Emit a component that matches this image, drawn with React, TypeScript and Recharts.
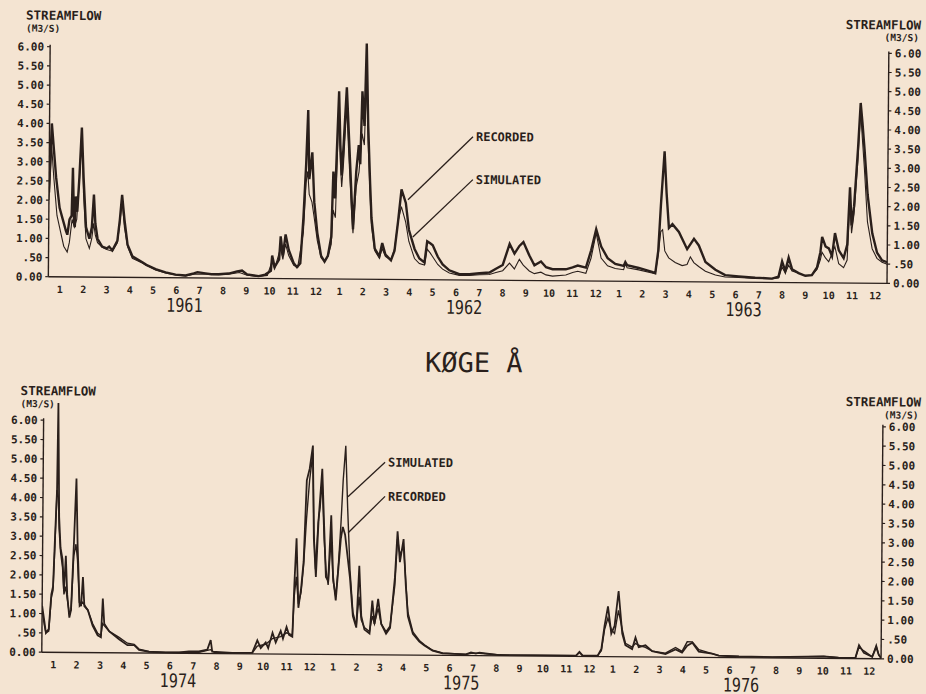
import React from "react";
import { LineChart, Line, XAxis, YAxis, ReferenceLine, ReferenceDot } from "recharts";

const BG = "#f4e4d2";
const INK = "#2a1f1b";
const MONO = "'DejaVu Sans Mono', monospace";

const MONTHS = ["1", "2", "3", "4", "5", "6", "7", "8", "9", "10", "11", "12"];
const MONTH_EDGES = Array.from({ length: 37 }, (_, i) => i);
const MONTH_CENTERS = Array.from({ length: 36 }, (_, i) => i + 0.5);
const Y_TICKS = [0, 0.5, 1, 1.5, 2, 2.5, 3, 3.5, 4, 4.5, 5, 5.5, 6];

const TOP_YEARS = ["1961", "1962", "1963"];
const TOP_YEAR_TICKS = [5.85, 17.85, 29.85];
const BOTTOM_YEARS = ["1974", "1975", "1976"];
const BOTTOM_YEAR_TICKS = [5.85, 18.0, 30.0];

// [month since start of first year, streamflow m3/s]
const TOP_RECORDED: [number, number][] = [
  [0, 2.2], [0.1, 4.0], [0.2, 3.3], [0.3, 2.6], [0.46, 1.8], [0.6, 1.5], [0.74, 1.2], [0.8, 1.1],
  [0.89, 1.5], [0.98, 1.6], [1.02, 2.85], [1.08, 1.5], [1.12, 1.3], [1.15, 2.1], [1.22, 1.7],
  [1.3, 2.6], [1.39, 3.9], [1.48, 2.6], [1.6, 1.3], [1.75, 1.0], [1.85, 1.3], [1.93, 2.15],
  [2.0, 1.4], [2.1, 1.0], [2.3, 0.8], [2.5, 0.75], [2.6, 0.8], [2.74, 0.7], [2.95, 0.95],
  [3.05, 1.5], [3.14, 2.15], [3.25, 1.5], [3.39, 0.85], [3.6, 0.55], [4.03, 0.4], [4.2, 0.33],
  [4.6, 0.22], [5.03, 0.14], [5.46, 0.08], [5.89, 0.06], [6.24, 0.12], [6.4, 0.15], [6.74, 0.12],
  [7.0, 0.1], [7.31, 0.1], [7.74, 0.12], [8.1, 0.18], [8.31, 0.2], [8.53, 0.1], [9.03, 0.06],
  [9.31, 0.1], [9.55, 0.2], [9.6, 0.6], [9.71, 0.3], [9.9, 0.5], [9.96, 1.1], [10.06, 0.6],
  [10.17, 1.15], [10.31, 0.75], [10.53, 0.4], [10.67, 0.3], [10.81, 0.4], [10.93, 1.6],
  [11.03, 3.0], [11.1, 4.4], [11.17, 2.6], [11.29, 3.3], [11.39, 2.0], [11.53, 1.2], [11.7, 0.6],
  [11.85, 0.45], [11.99, 0.6], [12.13, 1.1], [12.2, 2.8], [12.28, 2.1], [12.42, 4.9], [12.49, 3.5],
  [12.56, 2.7], [12.63, 3.5], [12.75, 5.0], [12.85, 3.8], [13.0, 2.0], [13.06, 1.3], [13.18, 2.8],
  [13.28, 3.5], [13.35, 3.0], [13.42, 4.9], [13.52, 4.0], [13.59, 6.15], [13.68, 4.0], [13.78, 2.5],
  [13.85, 1.6], [14.0, 0.8], [14.2, 0.6], [14.32, 0.95], [14.46, 0.65], [14.7, 0.5], [14.85, 0.75],
  [14.99, 1.5], [15.13, 2.35], [15.32, 2.0], [15.46, 1.3], [15.71, 0.8], [15.92, 0.55], [16.14, 0.45],
  [16.25, 1.0], [16.38, 0.95], [16.49, 0.9], [16.71, 0.6], [16.92, 0.4], [17.21, 0.25], [17.64, 0.15],
  [18.07, 0.15], [18.5, 0.18], [18.93, 0.2], [19.21, 0.3], [19.5, 0.4], [19.79, 0.95], [20.0, 0.7],
  [20.21, 0.9], [20.38, 1.0], [20.64, 0.65], [20.86, 0.4], [21.14, 0.5], [21.36, 0.35], [21.64, 0.3],
  [22.21, 0.3], [22.5, 0.35], [22.72, 0.4], [23.07, 0.35], [23.29, 0.8], [23.5, 1.35], [23.72, 0.9],
  [24.0, 0.6], [24.33, 0.45], [24.69, 0.4], [24.76, 0.5], [24.84, 0.42], [25.34, 0.35], [25.91, 0.25],
  [26.05, 0.22], [26.17, 0.8], [26.27, 2.0], [26.41, 3.4], [26.51, 2.3], [26.62, 1.4], [26.77, 1.5],
  [27.05, 1.3], [27.41, 0.85], [27.7, 1.12], [27.91, 0.95], [28.2, 0.52], [28.63, 0.32], [29.05, 0.18],
  [29.63, 0.15], [30.34, 0.12], [31.06, 0.1], [31.34, 0.15], [31.49, 0.55], [31.63, 0.3], [31.77, 0.65],
  [31.92, 0.35], [32.2, 0.25], [32.49, 0.18], [32.77, 0.2], [32.99, 0.4], [33.13, 0.8], [33.2, 1.2],
  [33.35, 0.95], [33.49, 0.9], [33.63, 0.7], [33.75, 1.3], [33.92, 0.85], [34.13, 0.65], [34.28, 1.0],
  [34.38, 2.5], [34.46, 1.5], [34.56, 2.0], [34.71, 3.5], [34.81, 4.7], [34.89, 4.2], [34.99, 3.5],
  [35.14, 2.3], [35.35, 1.3], [35.56, 0.8], [35.78, 0.6], [36.0, 0.55],
];

const TOP_SIMULATED: [number, number][] = [
  [0, 2.0], [0.1, 3.4], [0.2, 2.6], [0.35, 1.6], [0.5, 1.2], [0.65, 0.8], [0.8, 0.65], [0.89, 0.9],
  [1.0, 1.5], [1.1, 1.3], [1.2, 1.5], [1.3, 2.5], [1.39, 3.8], [1.48, 2.2], [1.6, 1.0], [1.75, 0.75],
  [1.85, 1.0], [1.93, 1.4], [2.0, 1.1], [2.1, 0.9], [2.3, 0.78], [2.5, 0.72], [2.74, 0.68], [2.95, 0.9],
  [3.05, 1.4], [3.14, 2.0], [3.25, 1.3], [3.39, 0.8], [3.6, 0.5], [4.03, 0.38], [4.6, 0.2], [5.03, 0.12],
  [5.46, 0.07], [5.89, 0.05], [6.3, 0.1], [6.74, 0.1], [7.31, 0.09], [7.74, 0.1], [8.2, 0.15],
  [8.53, 0.08], [9.03, 0.05], [9.4, 0.08], [9.6, 0.45], [9.71, 0.25], [9.96, 0.8], [10.06, 0.5],
  [10.17, 0.9], [10.31, 0.6], [10.53, 0.35], [10.7, 0.3], [10.93, 1.2], [11.03, 2.5], [11.1, 2.8],
  [11.17, 2.2], [11.29, 2.0], [11.39, 1.6], [11.53, 1.0], [11.7, 0.55], [11.85, 0.45], [12.0, 0.6],
  [12.13, 0.9], [12.2, 1.8], [12.3, 1.6], [12.42, 4.6], [12.5, 3.0], [12.56, 2.4], [12.63, 3.0],
  [12.75, 4.5], [12.85, 3.3], [13.0, 1.7], [13.06, 1.2], [13.18, 2.4], [13.3, 2.8], [13.42, 3.8],
  [13.52, 3.5], [13.59, 5.2], [13.68, 3.6], [13.78, 2.2], [13.85, 1.4], [14.0, 0.75], [14.2, 0.55],
  [14.32, 0.8], [14.46, 0.6], [14.7, 0.5], [14.85, 0.8], [14.99, 1.5], [15.13, 1.9], [15.32, 1.5],
  [15.46, 1.0], [15.71, 0.55], [15.92, 0.42], [16.14, 0.38], [16.25, 0.8], [16.38, 0.7], [16.49, 0.6],
  [16.71, 0.4], [16.92, 0.28], [17.21, 0.18], [17.64, 0.12], [18.07, 0.12], [18.5, 0.14], [18.93, 0.15],
  [19.21, 0.2], [19.5, 0.25], [19.79, 0.45], [20.0, 0.3], [20.21, 0.55], [20.38, 0.4], [20.64, 0.25],
  [20.86, 0.18], [21.14, 0.22], [21.36, 0.15], [21.64, 0.12], [22.21, 0.15], [22.5, 0.22], [22.72, 0.25],
  [23.07, 0.2], [23.29, 0.6], [23.5, 1.25], [23.72, 0.6], [24.0, 0.4], [24.33, 0.33], [24.69, 0.3],
  [24.76, 0.45], [24.84, 0.35], [25.34, 0.3], [25.91, 0.22], [26.05, 0.2], [26.17, 0.7], [26.27, 1.3],
  [26.35, 1.35], [26.45, 0.8], [26.62, 0.62], [26.9, 0.5], [27.2, 0.42], [27.41, 0.45], [27.55, 0.65],
  [27.7, 0.5], [27.91, 0.4], [28.2, 0.28], [28.63, 0.18], [29.05, 0.13], [29.63, 0.12], [30.34, 0.1],
  [31.06, 0.1], [31.34, 0.12], [31.49, 0.4], [31.63, 0.25], [31.77, 0.45], [31.92, 0.3], [32.2, 0.25],
  [32.49, 0.18], [32.77, 0.2], [32.99, 0.35], [33.13, 0.6], [33.2, 0.8], [33.35, 0.65], [33.49, 0.55],
  [33.75, 0.95], [33.92, 0.5], [34.13, 0.4], [34.28, 0.6], [34.38, 2.2], [34.46, 1.3], [34.56, 1.8],
  [34.71, 3.2], [34.81, 4.5], [34.89, 3.8], [34.99, 3.0], [35.14, 1.6], [35.35, 0.9], [35.56, 0.65],
  [35.78, 0.55], [36.0, 0.5],
];

const BOTTOM_RECORDED: [number, number][] = [
  [0, 1.2], [0.1, 0.8], [0.17, 0.5], [0.29, 0.6], [0.39, 1.5], [0.46, 1.7], [0.53, 3.0], [0.6, 4.2],
  [0.63, 6.45], [0.7, 3.5], [0.77, 2.7], [0.86, 2.4], [0.93, 1.6], [1.0, 2.5], [1.07, 1.5], [1.17, 0.9],
  [1.24, 1.1], [1.34, 2.8], [1.43, 4.5], [1.5, 2.8], [1.6, 1.3], [1.67, 1.2], [1.74, 1.95], [1.81, 1.2],
  [1.96, 1.1], [2.17, 0.7], [2.39, 0.45], [2.53, 0.4], [2.6, 1.4], [2.67, 0.75], [2.89, 0.55],
  [3.31, 0.35], [3.67, 0.2], [3.96, 0.2], [4.17, 0.08], [4.6, 0.03], [5.31, 0.02], [5.89, 0.02],
  [6.31, 0.05], [6.74, 0.05], [7.1, 0.1], [7.24, 0.35], [7.31, 0.05], [8.17, 0.02], [9.03, 0.03],
  [9.24, 0.35], [9.39, 0.15], [9.6, 0.3], [9.71, 0.15], [9.89, 0.55], [10.03, 0.3], [10.24, 0.6],
  [10.34, 0.4], [10.49, 0.7], [10.6, 0.5], [10.74, 0.45], [10.81, 1.8], [10.89, 3.0], [10.99, 1.2],
  [11.1, 1.7], [11.2, 2.4], [11.31, 4.5], [11.43, 4.8], [11.56, 5.4], [11.63, 3.0], [11.73, 2.0],
  [11.83, 3.5], [11.97, 4.8], [12.07, 3.3], [12.16, 2.0], [12.26, 1.9], [12.37, 3.6], [12.47, 2.0],
  [12.59, 1.4], [12.69, 2.2], [12.79, 3.0], [12.87, 3.3], [12.97, 3.1], [13.07, 2.6], [13.19, 2.0],
  [13.33, 1.0], [13.48, 0.7], [13.59, 2.3], [13.69, 1.0], [13.83, 0.65], [14.05, 0.55], [14.16, 1.4],
  [14.26, 0.8], [14.41, 1.45], [14.55, 0.8], [14.76, 0.55], [14.93, 0.7], [15.12, 2.0], [15.22, 3.2],
  [15.33, 2.4], [15.48, 3.0], [15.59, 1.8], [15.69, 1.0], [15.91, 0.55], [16.19, 0.35], [16.41, 0.25],
  [16.76, 0.12], [17.19, 0.05], [18.19, 0.03], [18.41, 0.08], [18.62, 0.05], [18.77, 0.08],
  [19.63, 0.02], [21.06, 0.02], [22.92, 0.02], [23.06, 0.12], [23.2, 0.02], [23.85, 0.03], [24.0, 0.2],
  [24.13, 0.8], [24.27, 1.3], [24.42, 0.6], [24.56, 0.8], [24.72, 1.7], [24.89, 0.6], [25.03, 0.3],
  [25.32, 0.2], [25.46, 0.5], [25.6, 0.25], [25.89, 0.3], [26.18, 0.15], [26.75, 0.08], [27.18, 0.2],
  [27.46, 0.12], [27.68, 0.3], [27.9, 0.38], [28.18, 0.15], [28.75, 0.1], [29.04, 0.05], [29.9, 0.03],
  [31.34, 0.02], [33.54, 0.05], [34.18, 0.02], [34.9, 0.02], [35.05, 0.35], [35.26, 0.15], [35.62, 0.05],
  [35.79, 0.3], [35.9, 0.1], [36.0, 0.02],
];

const BOTTOM_SIMULATED: [number, number][] = [
  [0, 1.1], [0.1, 0.7], [0.17, 0.5], [0.29, 0.55], [0.39, 1.4], [0.46, 1.6], [0.53, 2.8], [0.6, 4.2],
  [0.66, 4.0], [0.7, 3.2], [0.77, 2.6], [0.86, 2.2], [0.93, 1.5], [1.0, 1.7], [1.07, 1.4], [1.17, 1.0],
  [1.24, 1.1], [1.34, 2.5], [1.43, 2.8], [1.5, 2.4], [1.6, 1.2], [1.74, 1.3], [1.96, 1.1], [2.17, 0.75],
  [2.39, 0.5], [2.53, 0.45], [2.6, 0.75], [2.67, 0.7], [2.89, 0.55], [3.31, 0.4], [3.67, 0.25],
  [3.96, 0.22], [4.17, 0.1], [4.6, 0.04], [5.31, 0.02], [6.74, 0.03], [7.24, 0.1], [7.4, 0.03],
  [8.17, 0.02], [9.03, 0.03], [9.24, 0.2], [9.6, 0.25], [9.89, 0.4], [10.24, 0.45], [10.49, 0.55],
  [10.74, 0.5], [10.81, 1.5], [10.89, 2.0], [10.99, 1.3], [11.1, 1.6], [11.2, 2.3], [11.31, 3.5],
  [11.43, 4.5], [11.56, 5.2], [11.63, 3.2], [11.71, 2.2], [11.81, 3.4], [11.89, 3.8], [11.97, 4.5],
  [12.07, 3.0], [12.16, 2.2], [12.26, 1.8], [12.37, 3.0], [12.47, 1.9], [12.59, 1.5], [12.69, 2.3],
  [12.79, 3.4], [12.87, 4.5], [12.97, 5.4], [13.07, 3.8], [13.19, 2.2], [13.33, 1.1], [13.48, 0.75],
  [13.59, 1.5], [13.69, 0.9], [13.83, 0.7], [14.05, 0.6], [14.16, 1.0], [14.26, 0.8], [14.41, 1.2],
  [14.55, 0.8], [14.76, 0.6], [14.93, 0.75], [15.12, 1.8], [15.22, 3.0], [15.33, 2.6], [15.48, 2.8],
  [15.59, 1.9], [15.69, 1.1], [15.91, 0.6], [16.19, 0.38], [16.41, 0.27], [16.76, 0.13], [17.19, 0.06],
  [18.19, 0.03], [18.41, 0.06], [18.77, 0.06], [19.63, 0.02], [21.06, 0.02], [22.92, 0.02], [23.06, 0.1],
  [23.2, 0.02], [23.85, 0.03], [24.0, 0.15], [24.13, 0.7], [24.27, 1.0], [24.42, 0.7], [24.56, 0.6],
  [24.72, 1.2], [24.89, 0.7], [25.03, 0.35], [25.32, 0.25], [25.46, 0.35], [25.6, 0.3], [25.89, 0.25],
  [26.18, 0.15], [26.75, 0.1], [27.18, 0.25], [27.46, 0.15], [27.68, 0.4], [27.9, 0.4], [28.18, 0.2],
  [28.75, 0.1], [29.04, 0.05], [29.9, 0.03], [31.34, 0.02], [33.54, 0.05], [34.18, 0.02], [34.9, 0.02],
  [35.05, 0.3], [35.26, 0.2], [35.62, 0.05], [35.79, 0.35], [35.9, 0.1], [36.0, 0.02],
];

type Note = { text: string; from: [number, number]; to: [number, number] };

const TOP_NOTES: Note[] = [
  { text: "RECORDED", from: [15.41, 2.08], to: [18.18, 3.74] },
  { text: "SIMULATED", from: [15.63, 1.11], to: [18.19, 2.62] },
];
const BOTTOM_NOTES: Note[] = [
  { text: "SIMULATED", from: [13.08, 4.08], to: [14.66, 4.98] },
  { text: "RECORDED", from: [13.1, 3.15], to: [14.67, 4.1] },
];

const rows = (pts: [number, number][]) => pts.map(([m, v]) => ({ m, v }));
const fmtY = (v: number) => (v === 0 ? "0.00" : v < 1 ? v.toFixed(2).slice(1) : v.toFixed(2));

const tickFont = { fill: INK, fontSize: 11, fontWeight: 700, fontFamily: MONO };

function YearTick(props: any) {
  const { x, y, payload, ticks, labels } = props;
  const i = ticks.indexOf(payload.value);
  return (
    <text
      transform={`translate(${x},${y}) scale(0.8,1)`}
      textAnchor="middle"
      dy="0.71em"
      fill={INK}
      fontSize={19}
      fontFamily={MONO}
    >
      {labels[i]}
    </text>
  );
}

type PanelProps = {
  top: number;
  height: number;
  margin: { top: number; right: number; bottom: number; left: number };
  rightWidth: number;
  recorded: [number, number][];
  simulated: [number, number][];
  recWidth: number;
  simWidth: number;
  yearTicks: number[];
  years: string[];
  notes: Note[];
};

function Panel(p: PanelProps) {
  return (
    <div style={{ position: "absolute", left: 0, top: p.top }}>
      <LineChart width={926} height={p.height} margin={p.margin}>
        <XAxis
          xAxisId="tk"
          type="number"
          dataKey="m"
          domain={[0, 36]}
          allowDataOverflow
          ticks={MONTH_EDGES}
          interval={0}
          tick={false}
          tickSize={3}
          tickLine={{ stroke: INK, strokeWidth: 1.4 }}
          axisLine={false}
          height={0}
        />
        <XAxis
          xAxisId="mo"
          type="number"
          dataKey="m"
          domain={[0, 36]}
          allowDataOverflow
          ticks={MONTH_CENTERS}
          interval={0}
          tickFormatter={(v: number) => MONTHS[Math.floor(v) % 12]}
          tickLine={false}
          tickSize={0}
          tickMargin={9}
          tick={{ ...tickFont, fontSize: 10 }}
          axisLine={{ stroke: INK, strokeWidth: 1.4 }}
          height={18}
        />
        <XAxis
          xAxisId="yr"
          type="number"
          dataKey="m"
          domain={[0, 36]}
          allowDataOverflow
          ticks={p.yearTicks}
          interval={0}
          tick={<YearTick ticks={p.yearTicks} labels={p.years} />}
          tickLine={false}
          tickSize={0}
          tickMargin={2.5}
          axisLine={false}
          height={18}
        />
        <YAxis
          yAxisId="l"
          type="number"
          domain={[0, 6.6]}
          allowDataOverflow
          ticks={Y_TICKS}
          interval={0}
          tickFormatter={fmtY}
          tick={tickFont}
          tickSize={3}
          tickMargin={3}
          tickLine={{ stroke: INK, strokeWidth: 1.2 }}
          axisLine={false}
          width={40}
        />
        <YAxis
          yAxisId="r"
          orientation="right"
          type="number"
          domain={[0, 6.6]}
          allowDataOverflow
          ticks={Y_TICKS}
          interval={0}
          tickFormatter={fmtY}
          tick={tickFont}
          tickSize={3}
          tickMargin={3}
          tickLine={{ stroke: INK, strokeWidth: 1.2 }}
          axisLine={false}
          width={p.rightWidth}
        />
        <ReferenceLine
          xAxisId="mo"
          yAxisId="l"
          segment={[{ x: 0, y: 0 }, { x: 0, y: 6.05 }]}
          stroke={INK}
          strokeWidth={1.4}
        />
        <ReferenceLine
          xAxisId="mo"
          yAxisId="l"
          segment={[{ x: 36, y: 0 }, { x: 36, y: 6.05 }]}
          stroke={INK}
          strokeWidth={1.4}
        />
        <Line
          xAxisId="mo"
          yAxisId="l"
          data={rows(p.simulated)}
          dataKey="v"
          type="linear"
          stroke={INK}
          strokeWidth={p.simWidth}
          dot={false}
          isAnimationActive={false}
        />
        <Line
          xAxisId="mo"
          yAxisId="l"
          data={rows(p.recorded)}
          dataKey="v"
          type="linear"
          stroke={INK}
          strokeWidth={p.recWidth}
          dot={false}
          isAnimationActive={false}
        />
        {p.notes.map((n) => (
          <ReferenceLine
            key={n.text + "-line"}
            xAxisId="mo"
            yAxisId="l"
            segment={[{ x: n.from[0], y: n.from[1] }, { x: n.to[0], y: n.to[1] }]}
            stroke={INK}
            strokeWidth={1.3}
          />
        ))}
        {p.notes.map((n) => (
          <ReferenceDot
            key={n.text}
            xAxisId="mo"
            yAxisId="l"
            x={n.to[0]}
            y={n.to[1]}
            r={0}
            stroke="none"
            fill="none"
            label={{
              value: n.text,
              position: "right",
              offset: 3,
              fill: INK,
              fontSize: 12,
              fontWeight: 700,
              fontFamily: MONO,
            }}
          />
        ))}
      </LineChart>
    </div>
  );
}

const labelStyle = { fill: INK, fontFamily: MONO, fontWeight: 700 } as const;

export default function App() {
  return (
    <div style={{ position: "fixed", left: 0, top: 0, width: 926, height: 694, background: BG, overflow: "hidden" }}>
      <div
        style={{
          position: "absolute",
          left: 0,
          top: 0,
          width: 926,
          height: 694,
          transform: "rotate(0.45deg)",
          transformOrigin: "463px 347px",
        }}
      >
        <Panel
          top={0}
          height={330}
          margin={{ top: 27, right: 0, bottom: 14, left: 7.8 }}
          rightWidth={39.5}
          recorded={TOP_RECORDED}
          simulated={TOP_SIMULATED}
          recWidth={2.4}
          simWidth={1.1}
          yearTicks={TOP_YEAR_TICKS}
          years={TOP_YEARS}
          notes={TOP_NOTES}
        />
        <Panel
          top={340}
          height={354}
          margin={{ top: 60.3, right: 0, bottom: 2.5, left: 4.2 }}
          rightWidth={42.5}
          recorded={BOTTOM_RECORDED}
          simulated={BOTTOM_SIMULATED}
          recWidth={1.8}
          simWidth={1.4}
          yearTicks={BOTTOM_YEAR_TICKS}
          years={BOTTOM_YEARS}
          notes={BOTTOM_NOTES}
        />
        <svg width={926} height={694} style={{ position: "absolute", left: 0, top: 0, pointerEvents: "none" }}>
          <text x={23.5} y={23} fontSize={12.5} {...labelStyle}>STREAMFLOW</text>
          <text x={23.5} y={35} fontSize={9.5} {...labelStyle}>(M3/S)</text>
          <text x={918.5} y={26} fontSize={12.5} textAnchor="end" {...labelStyle}>STREAMFLOW</text>
          <text x={916.5} y={37.5} fontSize={9.5} textAnchor="end" {...labelStyle}>(M3/S)</text>
          <text x={474} y={372} fontSize={27} textAnchor="middle" fill={INK} fontFamily={MONO}>KØGE Å</text>
          <text x={21} y={398.5} fontSize={12.5} {...labelStyle}>STREAMFLOW</text>
          <text x={21} y={410.5} fontSize={9.5} {...labelStyle}>(M3/S)</text>
          <text x={921.5} y={403} fontSize={12.5} textAnchor="end" {...labelStyle}>STREAMFLOW</text>
          <text x={919} y={415} fontSize={9.5} textAnchor="end" {...labelStyle}>(M3/S)</text>
        </svg>
      </div>
    </div>
  );
}
